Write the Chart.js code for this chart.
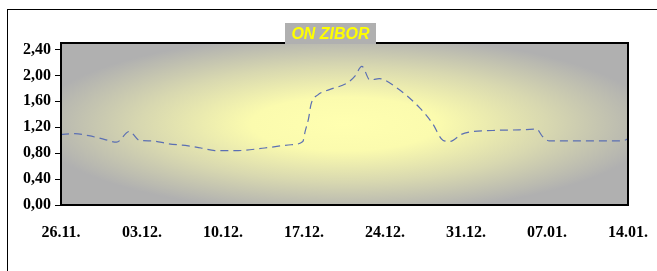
<!DOCTYPE html>
<html>
<head>
<meta charset="utf-8">
<script src="https://cdn.jsdelivr.net/npm/chart.js@4"></script>
<style>
  html, body { margin: 0; padding: 0; background: #ffffff; }
  canvas { display: block; }
</style>
</head>
<body>
<canvas id="c" width="657" height="271"></canvas>
<script>
// ---- data ----
const chartTitle = "ON ZIBOR";
const xTickLabels = ["26.11.", "03.12.", "10.12.", "17.12.", "24.12.", "31.12.", "07.01.", "14.01."];
const yTickLabels = ["0,00", "0,40", "0,80", "1,20", "1,60", "2,00", "2,40"];
// day offsets from 26.11.
const dayOffsets = [0, 1.2, 2.4, 3.8, 4.8, 5.9, 6.8, 7.8, 9.3, 11.0, 12.1, 13.3, 15.3, 17.6, 19.9, 20.9,
  21.1, 21.4, 21.6, 22.2, 23.2, 24.8, 25.4, 26.0, 26.7, 27.5, 29.0, 31.0, 32.1, 33.0, 33.6, 34.6,
  35.3, 37.3, 39.6, 41.1, 41.6, 42.2, 44.8, 48.5, 49.0];
const rates = [1.09, 1.10, 1.07, 1.01, 0.97, 1.135, 0.995, 0.99, 0.945, 0.913, 0.88, 0.84, 0.84, 0.88, 0.93, 0.98,
  1.135, 1.34, 1.55, 1.70, 1.78, 1.89, 1.99, 2.14, 1.93, 1.95, 1.81, 1.50, 1.26, 1.00, 0.98, 1.09,
  1.125, 1.15, 1.16, 1.17, 1.06, 0.99, 0.99, 0.99, 1.02];

const points = dayOffsets.map((d, i) => ({ x: d, y: rates[i] }));

const bgPlugin = {
  id: 'bg',
  beforeDraw(chart) {
    const ctx = chart.ctx;
    const a = chart.chartArea;
    ctx.save();
    ctx.fillStyle = '#ffffff';
    ctx.fillRect(0, 0, chart.width, chart.height);
    // outer frame
    ctx.strokeStyle = '#000000';
    ctx.lineWidth = 1;
    ctx.strokeRect(7.5, 9.5, 800, 400);
    // plot area gradient (elliptical from centre)
    const cx = a.left + (a.right - a.left) * 0.5;
    const cy = a.top + (a.bottom - a.top) * 0.5;
    const rx = (a.right - a.left) * 0.5;
    const ry = (a.bottom - a.top) * 0.5;
    ctx.beginPath();
    ctx.rect(a.left, a.top, a.right - a.left, a.bottom - a.top);
    ctx.clip();
    ctx.translate(cx, cy);
    ctx.scale(rx / ry, 1);
    const g = ctx.createRadialGradient(0, 0, 0, 0, 0, ry * 1.1);
    g.addColorStop(0, '#ffffb0');
    g.addColorStop(0.3, '#fbfbae');
    g.addColorStop(0.65, '#d8d8b0');
    g.addColorStop(1, '#b0b0b0');
    ctx.fillStyle = g;
    ctx.fillRect(-rx * 2, -ry * 2, rx * 4, ry * 4);
    ctx.restore();
  },
  afterDatasetsDraw(chart) {
    const ctx = chart.ctx;
    const a = chart.chartArea;
    ctx.save();
    ctx.strokeStyle = '#000000';
    ctx.lineWidth = 2;
    ctx.strokeRect(a.left, a.top, a.right - a.left, a.bottom - a.top);
    // title box
    ctx.font = 'italic bold 16px "Liberation Sans", Arial, sans-serif';
    const bx = 285, bw = 91, by = 23, bh = 21;
    ctx.fillStyle = '#b0b0b0';
    ctx.fillRect(bx, by, bw, bh);
    ctx.fillStyle = '#ffff00';
    ctx.textAlign = 'center';
    ctx.textBaseline = 'middle';
    ctx.fillText(chartTitle, bx + bw / 2, by + bh / 2 + 1);
    ctx.restore();
  }
};

const tickFont = { family: '"Liberation Serif", "Times New Roman", serif', size: 16, weight: 'bold' };

new Chart(document.getElementById('c'), {
  type: 'line',
  data: {
    datasets: [{
      data: points,
      borderColor: '#5b6fb3',
      borderWidth: 1.2,
      borderDash: [8, 5],
      pointRadius: 0,
      fill: false,
      cubicInterpolationMode: 'monotone'
    }]
  },
  options: {
    responsive: false,
    animation: false,
    layout: { padding: { left: 0, right: 29, top: 43, bottom: 0 } },
    plugins: { legend: { display: false }, title: { display: false }, tooltip: { enabled: false } },
    scales: {
      x: {
        type: 'linear',
        min: 0,
        max: 49,
        afterBuildTicks(scale) {
          scale.ticks = xTickLabels.map((_, i) => ({ value: i * 7 }));
        },
        afterFit(scale) {
          scale.height = 66;
          scale.paddingLeft = 0;
          scale.paddingRight = 0;
        },
        grid: { display: false, drawTicks: false },
        border: { display: false },
        ticks: {
          padding: 18,
          color: '#000000',
          font: tickFont,
          maxRotation: 0,
          autoSkip: false,
          callback: (v) => xTickLabels[Math.round(v / 7)]
        }
      },
      y: {
        min: 0,
        max: 2.5,
        afterBuildTicks(scale) {
          scale.ticks = yTickLabels.map((_, i) => ({ value: i * 0.4 }));
        },
        afterFit(scale) {
          scale.width = 61;
          scale.paddingTop = 0;
          scale.paddingBottom = 0;
        },
        grid: { drawOnChartArea: false, drawTicks: true, tickLength: 6, color: '#000000', lineWidth: 1 },
        border: { display: true, color: '#000000', width: 2 },
        ticks: {
          padding: 4,
          color: '#000000',
          font: tickFont,
          autoSkip: false,
          callback: (v) => yTickLabels[Math.round(v / 0.4)]
        }
      }
    }
  },
  plugins: [bgPlugin]
});
</script>
</body>
</html>
